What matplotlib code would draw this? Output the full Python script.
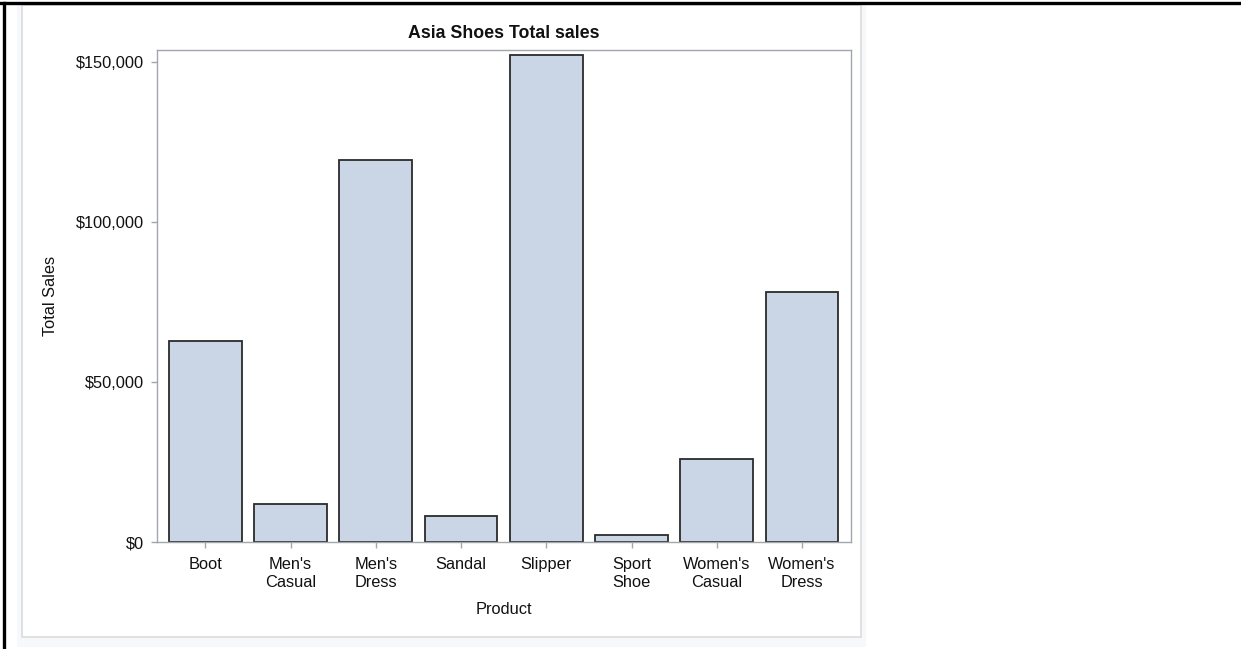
import matplotlib
matplotlib.use("Agg")
import matplotlib.pyplot as plt
from matplotlib.patches import Rectangle
from matplotlib.ticker import FuncFormatter

products = ["Boot", "Men's\nCasual", "Men's\nDress", "Sandal", "Slipper",
            "Sport\nShoe", "Women's\nCasual", "Women's\nDress"]
total_sales = [62708, 11754, 119366, 8208, 152032, 2092, 25837, 78234]
y_ticks = [0, 50000, 100000, 150000]

plt.rcParams['font.family'] = ['Liberation Sans', 'DejaVu Sans']

W, H = 1241, 649
fig = plt.figure(figsize=(W / 100, H / 100), dpi=100)
fig.patch.set_facecolor('white')

def fx(x):
    return x / W

def fy(y):
    return 1 - y / H

# outer light panel
fig.patches.append(Rectangle((fx(17), fy(647)), fx(866) - fx(17), fy(5) - fy(647),
                             transform=fig.transFigure, facecolor='#F7F8FC',
                             edgecolor='none', zorder=-3))
# inner white panel with gray border
fig.patches.append(Rectangle((fx(22), fy(637)), fx(861) - fx(22), fy(5) - fy(637),
                             transform=fig.transFigure, facecolor='white',
                             edgecolor='#DCDCDC', linewidth=1.2, zorder=-2))
# black border top and left
fig.add_artist(plt.Line2D([0, 1], [fy(2.5), fy(2.5)], transform=fig.transFigure,
                          color='black', linewidth=2.4, zorder=-1))
fig.add_artist(plt.Line2D([fx(3.5), fx(3.5)], [0, fy(2.5)], transform=fig.transFigure,
                          color='black', linewidth=2.4, zorder=-1))

ax = fig.add_axes([fx(156.7), fy(542), fx(851) - fx(156.7), fy(50) - fy(542)])
ax.set_zorder(2)
ax.set_facecolor('white')
x = list(range(len(products)))
ax.bar(x, total_sales, width=0.856, color='#CAD5E5', edgecolor='#2B2B2B',
       linewidth=1.3, zorder=2)

ax.set_xlim(-0.570, 7.575)
ax.set_ylim(0, 153750)
ax.set_xticks(x)
ax.set_xticklabels(products, fontsize=11.8, color='#111111', linespacing=1.3)
ax.set_yticks(y_ticks)
ax.yaxis.set_major_formatter(FuncFormatter(lambda v, p: "${:,.0f}".format(v)))
for lab in ax.get_yticklabels():
    lab.set_fontsize(11.8)
    lab.set_color('#111111')

for sp in ax.spines.values():
    sp.set_color('#A3A7AB')
    sp.set_linewidth(1.0)

ax.tick_params(axis='both', direction='out', length=4.3, width=1.0, color='#A3A7AB')
ax.tick_params(axis='x', pad=6.3)
ax.tick_params(axis='y', pad=4.5)

ax.set_xlabel("Product", fontsize=11.8, color='#111111', labelpad=8.5)
ax.set_ylabel("Total Sales", fontsize=11.8, color='#111111', labelpad=13)
ax.set_title("Asia Shoes Total sales", fontsize=12.8, fontweight='bold',
             color='#111111', pad=9)

fig.savefig("out.png", dpi=100)
